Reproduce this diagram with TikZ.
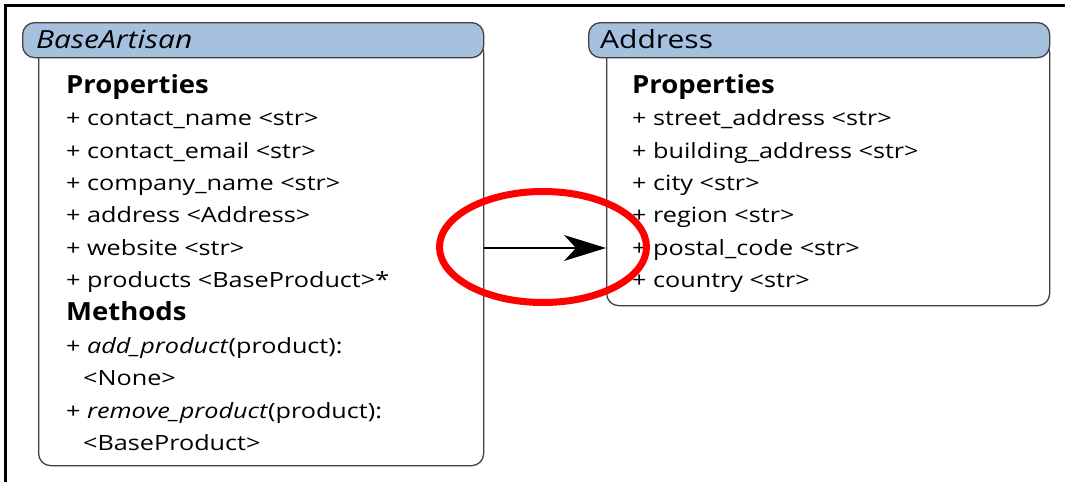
\documentclass[tikz,border=0pt]{standalone}
\usepackage{fontspec}
\setmainfont[FakeStretch=1.2]{Open Sans}
\newfontfamily\headfont[FakeStretch=1.1]{Open Sans}
\usetikzlibrary{arrows.meta,shapes.geometric}
\definecolor{hdrblue}{HTML}{A6C1E0}
\definecolor{linegray}{HTML}{404040}
\tikzset{
  hdr/.style={draw=linegray, line width=1.3pt, fill=hdrblue, rounded corners=12pt, anchor=north west, inner sep=0pt},
  bodybox/.style={draw=linegray, line width=1.3pt, fill=white, rounded corners=12pt, anchor=north west, inner sep=0pt},
  item/.style={anchor=base west, inner sep=0pt, font=\fontsize{21}{24}\selectfont},
  sect/.style={anchor=base west, inner sep=0pt, font=\headfont\fontsize{25}{30}\selectfont\bfseries},
  title/.style={anchor=base west, inner sep=0pt, font=\fontsize{25}{30}\selectfont},
}
\begin{document}
\begin{tikzpicture}[x=1pt,y=-1pt]
\useasboundingbox (0,0) rectangle (1065,482);
\fill[white] (0,0) rectangle (1065,482);
\draw[line width=3pt] (5,482) -- (5,5) -- (1065,5);
% BaseArtisan
\node[bodybox, minimum width=445pt, minimum height=425pt] (babody) at (38,40) {};
\node[hdr, minimum width=461pt, minimum height=35pt] (bahdr) at (22,22) {};
\node[title] (batitle) at (36,48) {\itshape BaseArtisan};
\node[sect] (bap) at (66,93) {Properties};
\node[item] (ba1) at (66,125) {+ contact\_name <str>};
\node[item] (ba2) at (66,158) {+ contact\_email <str>};
\node[item] (ba3) at (66,190) {+ company\_name <str>};
\node[item] (ba4) at (66,222) {+ address <Address>};
\node[item] (ba5) at (66,255) {+ website <str>};
\node[item] (ba6) at (66,287) {+ products <BaseProduct>*};
\node[sect] (bam) at (66,320) {Methods};
\node[item] (bm1) at (66,353) {+ \textit{add\_product}(product):};
\node[item] (bm1b) at (83,385) {<None>};
\node[item] (bm2) at (66,418) {+ \textit{remove\_product}(product):};
\node[item] (bm2b) at (83,450) {<BaseProduct>};
% Address
\node[bodybox, minimum width=443pt, minimum height=265pt] (adbody) at (606,40) {};
\node[hdr, minimum width=461pt, minimum height=35pt] (adhdr) at (588,22) {};
\node[title] (adtitle) at (600,48) {Address};
\node[sect] (adp) at (632,93) {Properties};
\node[item] (ad1) at (632,125) {+ street\_address <str>};
\node[item] (ad2) at (632,158) {+ building\_address <str>};
\node[item] (ad3) at (632,190) {+ city <str>};
\node[item] (ad4) at (632,222) {+ region <str>};
\node[item] (ad5) at (632,255) {+ postal\_code <str>};
\node[item] (ad6) at (632,287) {+ country <str>};
% connector
\coordinate (arry) at (0,248);
\draw[line width=1.3pt, -{Stealth[length=42pt,width=26pt,inset=12pt]}] (babody.east |- arry) -- (adbody.west |- arry);
% highlight
\node[draw=red, line width=7pt, ellipse, minimum width=207pt, minimum height=111pt, inner sep=0pt] (hl) at (543,247) {};
\end{tikzpicture}
\end{document}
